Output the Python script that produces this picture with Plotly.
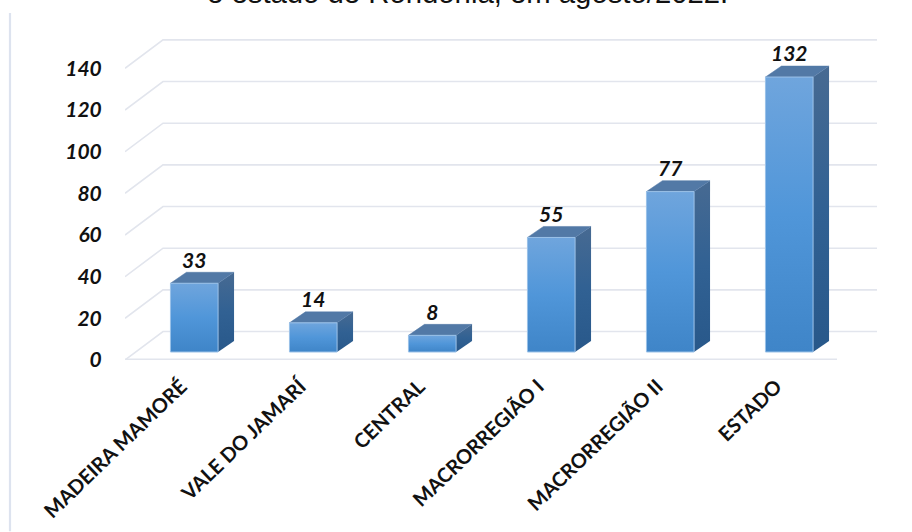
import plotly.graph_objects as go

categories = ["MADEIRA MAMORÉ", "VALE DO JAMARÍ", "CENTRAL", "MACRORREGIÃO I", "MACRORREGIÃO II", "ESTADO"]
values = [33, 14, 8, 55, 77, 132]
y_ticks = [0, 20, 40, 60, 80, 100, 120, 140]
title_text = "e estado de Rondônia, em agosto/2022."

PX_X = 119.0
PX_Y = 2.086
BAR_W = 0.4
BASE = 8.0 / PX_Y
SIDE_DX, SIDE_DY = 16 / PX_X, 11 / PX_Y
WALL_DX, WALL_DY = 38 / PX_X, 28.5 / PX_Y
X_LEFT = (125 - 194.25) / PX_X
X_BACK_R = (877 - 194.25) / PX_X
X_FRONT_R = (837 - 194.25) / PX_X
GRID = "#e2e5ed"

FRONT_SCALE = [[0, "#3f85c8"], [0.5, "#5096d9"], [1, "#6fa5dd"]]
SIDE_SCALE = [[0, "#28588a"], [0.5, "#316193"], [1, "#476a92"]]
TOP_COL = "#5279a6"

fig = go.Figure()

# solid bars (covered with gradient faces below)
fig.add_trace(go.Bar(x=list(range(len(values))), y=values, base=BASE, width=BAR_W,
                     marker=dict(color="#5096d9", line=dict(width=0)),
                     showlegend=False, hoverinfo="skip"))

# wall and floor grid lines
for t in y_ticks:
    xs = [X_LEFT, X_LEFT + WALL_DX, X_BACK_R]
    ys = [t, t + WALL_DY, t + WALL_DY]
    fig.add_trace(go.Scatter(x=xs, y=ys, mode="lines", line=dict(color=GRID, width=1.6),
                             showlegend=False, hoverinfo="skip"))
fig.add_trace(go.Scatter(x=[X_LEFT, X_FRONT_R], y=[0.3, 0.3], mode="lines",
                         line=dict(color=GRID, width=1.8), showlegend=False, hoverinfo="skip"))

for i, v in enumerate(values):
    x0, x1 = i - BAR_W / 2, i + BAR_W / 2
    y0, y1 = BASE, BASE + v
    # side
    fig.add_trace(go.Scatter(
        x=[x1, x1 + SIDE_DX, x1 + SIDE_DX, x1, x1],
        y=[y0, y0 + SIDE_DY, y1 + SIDE_DY, y1, y0],
        mode="lines", line=dict(width=0.5, color="rgba(255,255,255,0)"), fill="toself",
        fillgradient=dict(type="vertical", colorscale=SIDE_SCALE),
        showlegend=False, hoverinfo="skip"))
    # top
    fig.add_trace(go.Scatter(
        x=[x0, x1, x1 + SIDE_DX, x0 + SIDE_DX, x0],
        y=[y1, y1, y1 + SIDE_DY, y1 + SIDE_DY, y1],
        mode="lines", line=dict(width=0.5, color=TOP_COL), fill="toself", fillcolor=TOP_COL,
        showlegend=False, hoverinfo="skip"))
    # front
    fig.add_trace(go.Scatter(
        x=[x0, x1, x1, x0, x0],
        y=[y0, y0, y1, y1, y0],
        mode="lines", line=dict(width=1, color="#9cc2e8"), fill="toself",
        fillgradient=dict(type="vertical", colorscale=FRONT_SCALE),
        showlegend=False, hoverinfo="skip"))

# data labels
fig.add_trace(go.Scatter(
    x=list(range(len(values))), y=[BASE + v + 21 / PX_Y for v in values],
    mode="text", text=[str(v) for v in values], textposition="middle center",
    textfont=dict(family="Lato", size=21, color="#111111", weight="bold", style="italic"),
    showlegend=False, hoverinfo="skip"))

fig.update_layout(
    width=912, height=532,
    margin=dict(l=125, r=0, t=0, b=171.5),
    autosize=False,
    paper_bgcolor="white", plot_bgcolor="white",
    annotations=[dict(text=title_text, xref="paper", yref="paper", x=(467.5 - 125) / 787, y=1,
                      xanchor="center", yanchor="bottom", yshift=-11, showarrow=False,
                      font=dict(family="Liberation Sans", size=29.3, color="#111111"))],
    xaxis=dict(range=[X_LEFT, (912 - 194.25) / PX_X], tickmode="array",
               tickvals=[i - 13 / PX_X for i in range(len(categories))], ticktext=categories,
               tickangle=-44, showgrid=False, zeroline=False, showline=False,
               ticks="outside", ticklen=6, tickcolor="rgba(0,0,0,0)", automargin=False,
               tickfont=dict(family="Lato", size=20, color="#111111", weight="bold")),
    yaxis=dict(range=[0, 360.5 / PX_Y], tickmode="array", tickvals=y_ticks,
               showgrid=False, zeroline=False, showline=False,
               ticks="outside", ticklen=18, tickcolor="rgba(0,0,0,0)", automargin=False,
               tickfont=dict(family="Lato", size=21, color="#111111", weight="bold", style="italic")),
    shapes=[dict(type="line", xref="paper", yref="paper", x0=-115 / 787, x1=-115 / 787,
                 y0=(360.5 - 13) / 360.5, y1=-171.5 / 360.5,
                 line=dict(color="#dde3ef", width=2.2))],
)

fig.write_html("out.html", config={"displayModeBar": False},
               post_script="document.body.style.margin='0';")
